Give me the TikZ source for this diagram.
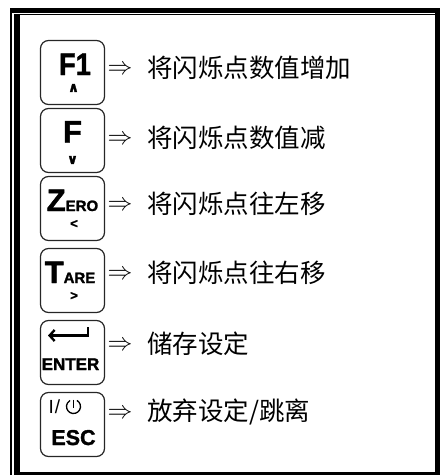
\documentclass[tikz,border=0pt]{standalone}
\usepackage{fontspec}
\setmainfont{Liberation Sans}
\newfontfamily\cjk{Noto Sans CJK SC}
\newfontfamily\dejavu[FakeBold=2]{DejaVu Sans Bold}
\newfontfamily\heavy[FakeBold=1.5]{Liberation Sans Bold}
\usetikzlibrary{arrows.meta}
\tikzset{
  keybox/.style={draw=black!85, line width=1.2pt, rounded corners=8pt, minimum width=64pt, minimum height=64pt, inner sep=0pt},
  bigkey/.style={inner sep=0pt, anchor=base, font=\heavy\fontsize{31}{31}\selectfont},
  smallsym/.style={inner sep=0pt, font=\heavy\fontsize{13}{13}\selectfont},
  mathsym/.style={inner sep=0pt, font=\dejavu\fontsize{13.5}{13.5}\selectfont},
  arrowtxt/.style={inner sep=0pt, font=\fontsize{25}{25}\selectfont},
  desc/.style={inner sep=0pt, anchor=west, font=\cjk\fontsize{25.5}{26}\selectfont},
}
\begin{document}
\begin{tikzpicture}[x=1pt,y=-1pt]
\useasboundingbox (0,0) rectangle (440,475);
% frame
\fill[black] (10,8) rectangle (12,475);
\fill[black] (10,8) rectangle (440,12.5);
\fill[black] (14,13.5) rectangle (435,15);
\fill[black] (14,13.5) rectangle (20,475);
\fill[black] (435,8) rectangle (440,475);
\fill[black] (14,471.5) rectangle (440,475);
% keys
\node[keybox] (k1) at (72.5,72.5) {};
\node[keybox] (k2) at (72.5,140.5) {};
\node[keybox] (k3) at (72.5,208.5) {};
\node[keybox] (k4) at (72.5,280.5) {};
\node[keybox] (k5) at (72.5,352.5) {};
\node[keybox] (k6) at (72.5,424.5) {};
% key labels
\node[bigkey] (l1) at (75,75) {\scalebox{0.88}[1]{F1}};
\node[mathsym] (s1) at (73.5,88) {∧};
\node[bigkey] (l2) at (72.5,142.5) {F};
\node[mathsym] (s2) at (72.5,160) {∨};
\node[bigkey] (l3) at (72.5,211) {Z{\fontsize{15}{15}\selectfont ERO}};
\node[smallsym] (s3) at (74,224) {<};
\node[bigkey] (l4) at (70,283) {T{\fontsize{15}{15}\selectfont ARE}};
\node[smallsym] (s4) at (74,296) {>};
\coordinate (r1) at (88,327);
\coordinate (r2) at (88,335.5);
\coordinate (r3) at (48,335.5);
\draw[line width=2.8pt, -{Straight Barb[length=5pt,width=11pt,line width=2.4pt]}] (r1) -- (r2) -- (r3);
\node[inner sep=0pt, anchor=base, font=\heavy\fontsize{17}{17}\selectfont] (l5) at (70.5,370) {ENTER};
\node[inner sep=0pt, anchor=base west, font=\fontsize{19}{19}\selectfont] (l6a) at (48.5,413) {I\kern1pt/};
\coordinate (p1) at (73.5,399.5);
\coordinate (p2) at (73.5,407.5);
\draw[line width=1.3pt] (p1) -- (p2);
\draw[line width=1.3pt] (73.5,406.5) ++(-60:7) arc[start angle=-60, end angle=240, radius=7];
\node[inner sep=0pt, anchor=base, font=\heavy\fontsize{21.5}{21.5}\selectfont] (l6) at (73.5,445) {ESC};
% arrows
\node[arrowtxt] (a1) at (120,70) {$\Rightarrow$};
\node[arrowtxt] (a2) at (120,139.5) {$\Rightarrow$};
\node[arrowtxt] (a3) at (120,206) {$\Rightarrow$};
\node[arrowtxt] (a4) at (120,274.5) {$\Rightarrow$};
\node[arrowtxt] (a5) at (120,345.5) {$\Rightarrow$};
\node[arrowtxt] (a6) at (120,413.5) {$\Rightarrow$};
% descriptions
\node[desc] (t1) at (147,68) {将闪烁点数值增加};
\node[desc] (t2) at (147,137.5) {将闪烁点数值减};
\node[desc] (t3) at (147,204) {将闪烁点往左移};
\node[desc] (t4) at (147,272.5) {将闪烁点往右移};
\node[desc] (t5) at (147,343.5) {储存设定};
\node[desc] (t6) at (147,411.5) {放弃设定/跳离};
\end{tikzpicture}
\end{document}
